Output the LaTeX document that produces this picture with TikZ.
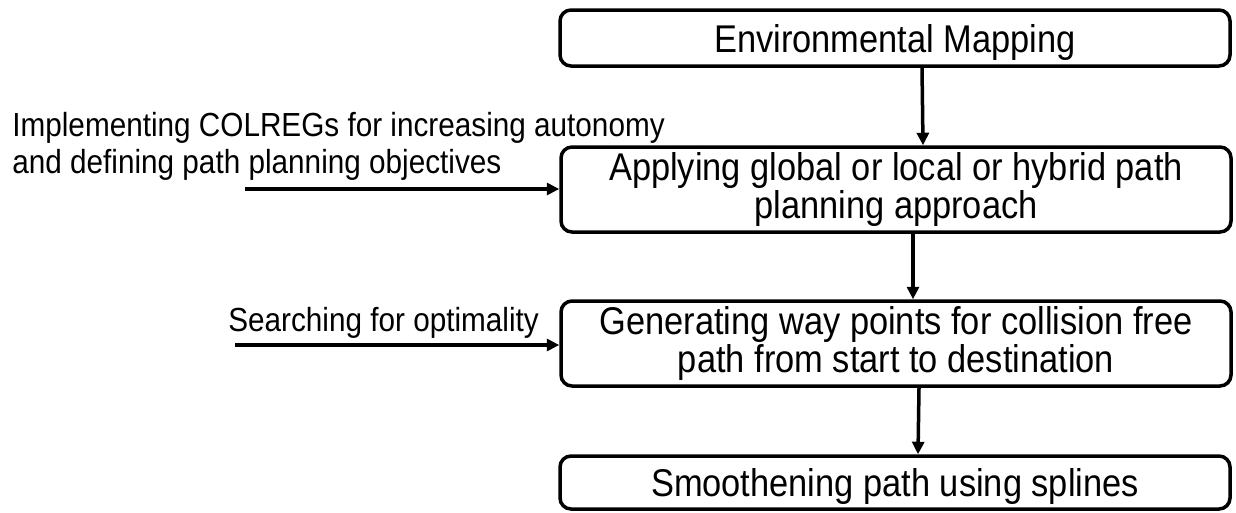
\documentclass[tikz,border=0pt]{standalone}
\usepackage{fontspec}
\setmainfont{Liberation Sans}[FakeStretch=0.89]
\usetikzlibrary{positioning}
\usetikzlibrary{calc}
\usetikzlibrary{arrows.meta}

\begin{document}
\begin{tikzpicture}
		\tikzset{stage/.style = {shape=rectangle,draw,rounded corners=0.22cm,line width=0.07cm,minimum width=13.4cm,align=center,inner sep=0pt,font=\fontsize{22}{21.6}\selectfont}}
		\tikzset{note/.style = {shape=rectangle,draw=none,align=left,inner sep=0pt,anchor=west,font=\fontsize{19}{21}\selectfont}}
		\tikzset{edge/.style = {-{Triangle[length=0.25cm,width=0.24cm]},line width=0.07cm}}
		\useasboundingbox (0,0) rectangle (24.72,-10.24);
		% stages
		\node[stage,minimum height=1.12cm,text depth=0pt] (env) at (17.9,-0.76) {Environmental Mapping};
		\node[stage,minimum height=1.7cm] (plan) at (17.92,-3.79) {Applying global or local or hybrid path\\planning approach};
		\node[stage,minimum height=1.7cm] (way) at (17.92,-6.87) {Generating way points for collision free\\path from start to destination};
		\node[stage,minimum height=1.06cm,text depth=0pt] (smooth) at (17.9,-9.65) {Smoothening path using splines};
		
		% inputs
		\node[note] (colreg) at (0.24,-2.92) {Implementing COLREGs for increasing autonomy\\and defining path planning objectives};
		\node[note] (optim) at (4.56,-6.46) {Searching for optimality};
		\coordinate (colregin) at (4.9,-3.78);
		\coordinate (optimin) at (4.7,-6.9);
		
		%edges
		\draw[edge] ([xshift=0.54cm]env.south) to ([xshift=0.54cm]plan.north);
		\draw[edge] ([xshift=0.34cm]plan.south) to ([xshift=0.34cm]way.north);
		\draw[edge] ([xshift=0.46cm]way.south) to ([xshift=0.46cm]smooth.north);
		\draw[edge] (colregin) to (colregin -| plan.west);
		\draw[edge] (optimin) to (optimin -| way.west);
\end{tikzpicture}
\end{document}
